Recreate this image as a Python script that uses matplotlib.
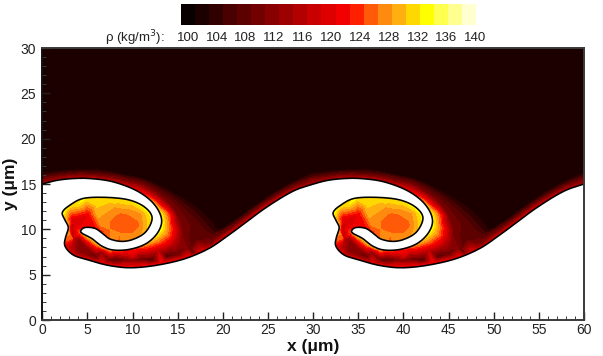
import numpy as np
import matplotlib
matplotlib.use("Agg")
import matplotlib.pyplot as plt
from matplotlib.colors import ListedColormap, BoundaryNorm
from matplotlib.lines import Line2D
from matplotlib.tri import Triangulation

plt.rcParams['font.family'] = ['Liberation Sans', 'DejaVu Sans']

W, H = 603, 356
PERIOD = 30

band_levels = list(range(100, 144, 2))
band_colors = ['#080000', '#1c0000', '#300000', '#480000', '#5c0000', '#720000', '#880000',
               '#9c0000', '#b20000', '#c80000', '#de0000', '#f20000', '#ff2000', '#ff5a08',
               '#ff8a10', '#ffb010', '#ffd800', '#ffff00', '#ffff50', '#ffff90', '#ffffd0']
cbar_labels = [100, 104, 108, 112, 116, 120, 124, 128, 132, 136, 140]

# interface (one period), with density on it
iface_x = [0, 1.6, 3.4, 5.3, 7.8, 10.45, 12.3, 13.2, 12.85, 11.56, 9.7, 7.86, 6.58, 5.47, 4.54, 4.25,
           4.73, 5.84, 6.76, 7.5, 8.79, 10.08, 11.37, 12.1, 12.0, 11.0, 9.35, 6.94, 4.54, 3.07, 2.22,
           2.51, 2.88, 2.59, 2.51, 3.43, 5.09, 7.13, 9.35, 11.56, 14.14, 16.36, 18.57, 20.42, 22.2,
           24.85, 27.76, 30]
iface_y = [15, 15.4, 15.6, 15.6, 15.25, 14.26, 12.87, 11.2, 9.74, 8.46, 7.8, 7.72, 8.16, 9.0, 9.48, 9.81,
           10.2, 10.1, 9.48, 8.93, 8.67, 8.9, 9.63, 10.84, 11.76, 12.68, 13.3, 13.53, 13.41, 12.68, 11.87,
           11.03, 10.2, 9.18, 8.16, 7.17, 6.62, 6.06, 5.77, 5.88, 6.32, 6.95, 7.95, 9.2, 10.5,
           12.45, 14.2, 15]
iface_rho = [116, 116, 118, 118, 118, 122, 130, 135, 135, 130, 124, 128, 132, 132, 130, 126,
             122, 122, 126, 128, 128, 129, 131, 134, 135, 135, 134, 134, 134, 134, 135,
             132, 130, 128, 124, 120, 120, 122, 124, 124, 124, 122, 120, 120, 120,
             120, 118, 116]

# density contour read outside the interface: edge of the dark background
edge_x = [0, 3, 6, 9.1, 11, 12.8, 14.7, 16.5, 18, 19, 19.6, 22.2, 24.85, 27.76, 30]
edge_y = [16.2, 16.5, 16.6, 16, 15.6, 14.9, 13.9, 12.8, 11.6, 10.5, 9.9, 11.6, 13.5, 15.2, 16.2]
edge_rho = 104

# density contour read in the dark part of the glow
dark_x = [0, 3.4, 5.3, 7.8, 9.15, 11, 12.8, 14.5, 16, 17.2, 18, 19, 20.4, 22.2, 24.85, 27.76, 30]
dark_y = [15.8, 16.2, 16.2, 16, 15.7, 15.3, 14.4, 13.3, 12, 10.8, 9.9, 9.4, 10.1, 11.3, 13.2, 14.9, 15.8]
dark_rho = 108

# density contour read in the middle of the glow
glow_x = [0, 3.4, 5.3, 7.8, 9.15, 11, 12.8, 14, 14.8, 15.4, 15.5]
glow_y = [15.5, 15.95, 15.95, 15.65, 15.3, 14.9, 13.8, 12.8, 11.7, 10.2, 9.2]
glow_rho = 112
slope_x = [18.5, 20.4, 22.2, 24.85, 27.76, 30]
slope_y = [8.4, 9.7, 10.95, 12.9, 14.55, 15.4]
slope_rho = 112

# spot readings of density
spot_x = [8.4, 9.5, 9, 10.5, 7, 6, 8, 10, 11, 11.5, 10, 8.5, 7.5, 6.5, 5.5, 4, 5, 3.4, 3.25, 6, 8, 10,
          3.3, 3.4, 4, 3.2, 4, 5, 5, 6, 6.5, 6, 8, 8, 10, 10,
          13.8, 13.9, 13.7, 13.1, 13.2, 14.2, 14.6, 14.9, 14.4, 14.1, 12.8, 11.5,
          15.2, 16, 16.5, 17, 16.7, 15, 13.8, 12.2, 11, 9.5, 7.5, 6, 4.5, 3.5, 18.7,
          19.5, 19, 22, 25, 10, 5, 20, 40]
spot_y = [10.8, 10.3, 11.5, 10.5, 11, 12, 12.5, 12.5, 11.8, 10.5, 9.5, 9.6, 10, 10.6, 11.2, 12.8, 11.6, 11,
          10.3, 12.8, 13, 13, 9, 9, 9, 8, 7.6, 8, 7.2, 7, 7.5, 8.3, 6.6, 7.2, 6.6, 7,
          10.5, 9.5, 11.8, 12.6, 8.4, 11.5, 10, 9.2, 8.4, 8.4, 7.7, 7.2,
          8.4, 7.9, 8, 9, 7.4, 7.2, 7, 6.6, 6.7, 6.6, 6.6, 7, 7.3, 8, 8.4,
          10.5, 13, 15, 18, 20, 25, 31, 31]
spot_rho = [126, 126, 127, 127, 129, 131, 130, 131, 130, 131, 128, 128, 128, 129, 124, 134, 122, 120, 118, 133, 133, 133,
            126, 118, 114, 116, 112, 114, 112, 110, 114, 128, 108, 118, 112, 120,
            130, 128, 128, 124, 124, 124, 122, 118, 118, 120, 118, 116,
            114, 112, 110, 108, 110, 110, 108, 108, 110, 112, 110, 110, 114, 116, 110,
            103, 103, 103, 103, 103, 103, 103, 103]


def smooth(values, n=6):
    """Catmull-Rom resampling along a list of readings."""
    p = np.asarray(values, float)
    p = np.vstack([2 * p[0] - p[1], p, 2 * p[-1] - p[-2]])
    out = []
    for i in range(1, len(p) - 2):
        t = np.linspace(0, 1, n, endpoint=False)[:, None]
        a, b, c, d = p[i - 1], p[i], p[i + 1], p[i + 2]
        out.append(0.5 * (2 * b + (c - a) * t + (2 * a - 5 * b + 4 * c - d) * t ** 2
                          + (3 * b - a - 3 * c + d) * t ** 3))
    out.append(p[-2][None, :])
    return np.vstack(out)


curve = smooth(np.column_stack([iface_x, iface_y, iface_rho]))
edge = smooth(np.column_stack([edge_x, edge_y, np.full(len(edge_x), edge_rho)]), 3)
dark = smooth(np.column_stack([dark_x, dark_y, np.full(len(dark_x), dark_rho)]), 3)
glow = smooth(np.column_stack([glow_x, glow_y, np.full(len(glow_x), glow_rho)]), 3)
slope = smooth(np.column_stack([slope_x, slope_y, np.full(len(slope_x), slope_rho)]), 3)
spots = np.column_stack([spot_x, spot_y, spot_rho])
samples = np.vstack([curve[:-1], edge[:-1], dark[:-1], glow, slope[:-1], spots])

px, py, pr = [], [], []
for k in range(-1, 3):
    px.append(samples[:, 0] + k * PERIOD)
    py.append(samples[:, 1])
    pr.append(samples[:, 2])
px, py, pr = np.concatenate(px), np.concatenate(py), np.concatenate(pr)
_, keep = np.unique(np.round(np.column_stack([px, py]), 3), axis=0, return_index=True)
px, py, pr = px[keep], py[keep], pr[keep]

fig = plt.figure(figsize=(W / 100, H / 100), dpi=100, facecolor='white')
ax = fig.add_axes([42.3 / W, (H - 320) / H, 541.7 / W, 272 / H])
ax.set_facecolor(band_colors[1])

cmap = ListedColormap(band_colors)
norm = BoundaryNorm(band_levels, cmap.N)
tri = Triangulation(px, py)
ax.tricontourf(tri, pr, levels=band_levels, cmap=cmap, norm=norm, extend='neither')

xs = np.r_[curve[:-1, 0], curve[:, 0] + PERIOD]
ys = np.r_[curve[:-1, 1], curve[:, 1]]
ax.fill(np.r_[xs, xs[-1], xs[0]], np.r_[ys, -1, -1], color='white', lw=0, zorder=1.5)
ax.plot(xs, ys, color='black', lw=1.15, zorder=1.8, solid_capstyle='butt')

ax.set_xlim(0, 60)
ax.set_ylim(0, 30)
ax.set_xticks(range(0, 61, 5))
ax.set_yticks(range(0, 31, 5))
ax.set_xticks(range(0, 61, 1), minor=True)
ax.set_yticks(range(0, 31, 1), minor=True)
ax.tick_params(which='major', direction='in', length=6, width=1.0, color='#222222',
               labelsize=10, labelcolor='#222222')
ax.tick_params(which='minor', direction='in', length=3, width=0.7, color='#3a3a3a')
ax.tick_params(axis='x', which='major', pad=2.5)
ax.tick_params(axis='y', which='major', pad=4.5)
for s in ax.spines.values():
    s.set_color('#3a3a3a')
    s.set_linewidth(1.4)
    s.set_zorder(6)
ax.spines['left'].set_color('#111111')
ax.set_xlabel('x (\u03bcm)', fontsize=12.5, fontweight='bold', color='#111111', labelpad=1)
ax.set_ylabel('y (\u03bcm)', fontsize=12.5, fontweight='bold', color='#111111', labelpad=2)

# legend bar
cax = fig.add_axes([181 / W, (H - 25) / H, 295 / W, 21 / H])
cax.pcolormesh(band_levels, [0, 1], np.array(band_levels[:-1])[None, :] + 1, cmap=cmap, norm=norm)
cax.set_xlim(band_levels[0], band_levels[-1])
cax.axis('off')
for v in cbar_labels:
    fig.text((188 + (v - 100) * 7.175) / W, (H - 38) / H, str(v), ha='center', va='center',
             fontsize=9.5, color='#222222')
fig.text(165 / W, (H - 38) / H, '\u03c1 (kg/m$^3$):', ha='right', va='center', fontsize=9.5, color='#222222')

# light frame edge of the picture
fig.add_artist(Line2D([602.5 / W, 602.5 / W], [0, 1], color='#dddddd', lw=1, transform=fig.transFigure))
fig.add_artist(Line2D([0, 1], [0.5 / H, 0.5 / H], color='#dddddd', lw=1, transform=fig.transFigure))

fig.savefig('out.png', dpi=100)
